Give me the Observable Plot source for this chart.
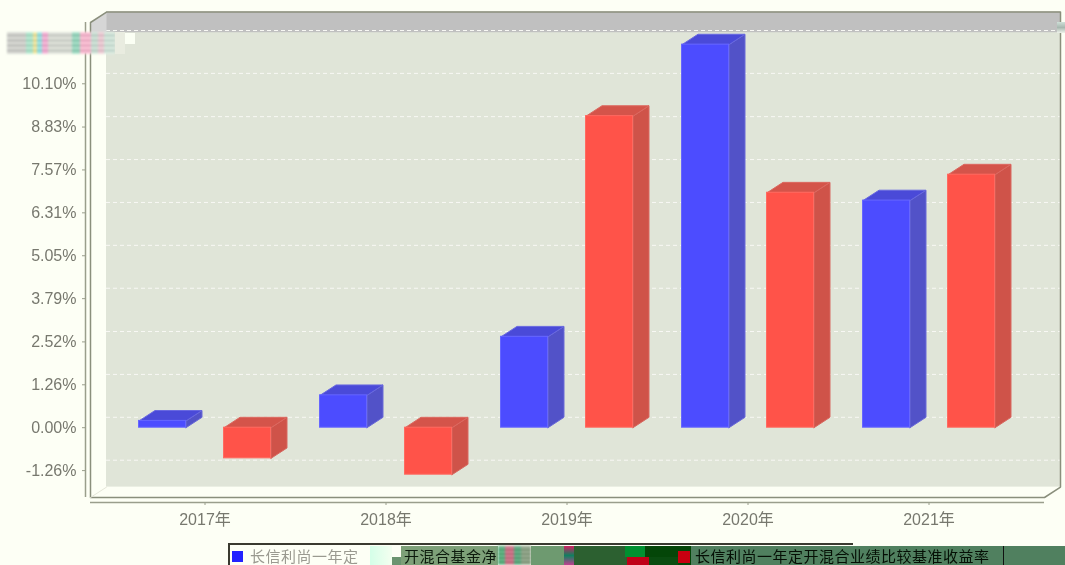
<!DOCTYPE html>
<html lang="zh">
<head>
<meta charset="utf-8">
<script src="https://cdn.jsdelivr.net/npm/d3@7"></script>
<script src="https://cdn.jsdelivr.net/npm/@observablehq/plot@0.6"></script>
<style>
html,body{margin:0;padding:0;background:#fff;overflow:hidden}
#wrap{position:relative;width:1065px;height:565px;background:#fdfff5;overflow:hidden;font-family:"Liberation Sans",Arial,sans-serif}
#chart svg{display:block;background:transparent;filter:blur(.45px)}
.abs{position:absolute}
#legend{position:absolute;left:0;top:543px;width:1065px;height:22px;overflow:hidden;filter:blur(.4px);font-family:"Noto Sans CJK SC",sans-serif;font-size:15px;letter-spacing:.5px;line-height:15px;white-space:nowrap}
#legend span{position:absolute}
</style>
</head>
<body>
<div id="wrap">
  <div id="chart"></div>
  <div class="abs" id="noise" style="left:7px;top:32px;width:108px;height:22px;filter:blur(.9px);
    background:repeating-linear-gradient(0deg,rgba(255,255,255,.28) 0 2px,rgba(120,120,140,.16) 2px 5px),linear-gradient(90deg,#cfd0c8 0 18%,#a8e8c8 18% 24%,#f4e890 24% 28%,#8ee4e0 28% 32%,#f8a8d0 32% 38%,#d8dcd0 38% 60%,#8ed8b8 60% 68%,#ffb4cc 68% 78%,#c8e0d0 78% 84%,#f0c8d0 84% 90%,#d0e8d8 90% 100%)"></div>
  <div class="abs" style="left:115px;top:32px;width:10px;height:22px;background:#e9ece0"></div>
  <div class="abs" style="left:125px;top:33px;width:10px;height:11px;background:#fbfff4"></div>
  <div class="abs" style="left:1057px;top:22px;width:8px;height:11px;background:linear-gradient(#cfe0d8,#a8b8b0 50%,#eef2ea)"></div>
  <div id="legend">
    <div class="abs" style="left:228px;top:0;width:625px;height:2px;background:#3a3a30"></div>
    <div class="abs" style="left:228px;top:0;width:2px;height:22px;background:#3a3a30"></div>
    <div class="abs" style="left:370px;top:3px;width:22px;height:19px;background:linear-gradient(90deg,#d4ffe8,#f4fff0)"></div>
    <div class="abs" style="left:392px;top:14px;width:10px;height:8px;background:#6b9470"></div>
    <div class="abs" style="left:401px;top:3px;width:97px;height:19px;background:#7da078"></div>
    <div class="abs" style="left:498px;top:3px;width:33px;height:19px;filter:blur(.8px);background:repeating-linear-gradient(0deg,rgba(255,255,255,.2) 0 2px,rgba(0,0,0,.12) 2px 4px),linear-gradient(90deg,#4fb078 0 20%,#d06880 20% 50%,#50a878 50% 70%,#88a080 70%)"></div>
    <div class="abs" style="left:531px;top:3px;width:33px;height:19px;background:#6e9a70"></div>
    <div class="abs" style="left:564px;top:3px;width:10px;height:19px;background:linear-gradient(#d02060,#108060 50%,#c04090)"></div>
    <div class="abs" style="left:574px;top:3px;width:67px;height:19px;background:#2c6030"></div>
    <div class="abs" style="left:625px;top:3px;width:20px;height:11px;background:#009030"></div>
    <div class="abs" style="left:627px;top:14px;width:22px;height:8px;background:#c00018"></div>
    <div class="abs" style="left:645px;top:3px;width:33px;height:11px;background:#044608"></div>
    <div class="abs" style="left:649px;top:14px;width:29px;height:8px;background:#0a4c10"></div>
    <div class="abs" style="left:678px;top:3px;width:13px;height:19px;background:#044608"></div>
    <div class="abs" style="left:691px;top:3px;width:374px;height:19px;background:#50805f"></div>
    <div class="abs" style="left:1003px;top:3px;width:1px;height:19px;background:#111"></div>
    <div class="abs" style="left:232px;top:8px;width:11px;height:11px;background:#2222ff"></div>
    <div class="abs" style="left:678px;top:8px;width:12px;height:12px;background:#c80010"></div>
    <span id="n1" style="left:250px;top:5px;color:#9a9a90"></span>
    <span id="n1b" style="left:404px;top:5px;color:#0c1a0c"></span>
    <span id="n2" style="left:695px;top:5px;color:#050f05"></span>
  </div>
</div>
<script>
// ---- data ----
const years = ["2017年", "2018年", "2019年", "2020年", "2021年"];
const fundValues = [0.2, 0.95, 2.67, 11.25, 6.67];
const benchmarkValues = [-0.9, -1.38, 9.15, 6.9, 7.43];
const yTicks = [-1.26, 0, 1.26, 2.52, 3.79, 5.05, 6.31, 7.57, 8.83, 10.10, 11.36];
const seriesNames = ["长信利尚一年定开混合基金净值增长率", "长信利尚一年定开混合业绩比较基准收益率"];

// ---- 3D geometry, in scale units ----
const depthX = 16 / 181, depthY = 0.305;
const xMin = -114.5 / 181, xMax = 839.5 / 181;
const yMin = -2.05, yMax = 11.9;
const barOffset = [[-66 / 181, -19 / 181], [19 / 181, 66 / 181]];

const bars = (vals, s) => vals.map((v, i) => ({x1: i + barOffset[s][0], x2: i + barOffset[s][1], y1: 0, y2: v, top: Math.max(v, 0), bot: Math.min(v, 0)}));
const blue = bars(fundValues, 0), red = bars(benchmarkValues, 1);
const poly = (pts, id) => pts.map(([x, y]) => ({x, y, id}));
const sides = rows => rows.flatMap((b, i) => poly([[b.x2, b.bot], [b.x2 + depthX, b.bot + depthY], [b.x2 + depthX, b.top + depthY], [b.x2, b.top], [b.x2, b.bot]], i));
const tops = rows => rows.flatMap((b, i) => poly([[b.x1, b.top], [b.x1 + depthX, b.top + depthY], [b.x2 + depthX, b.top + depthY], [b.x2, b.top], [b.x1, b.top]], i));
const face = (rows, fill, stroke) => Plot.line(rows, {x: "x", y: "y", z: "id", fill, stroke, strokeWidth: 1, curve: "linear"});

const wallTop = yMax + depthY, wallBottom = yMin + depthY, bandBottom = 11.6;
const wx1 = xMin + depthX, wx2 = xMax + depthX;
const axisXpos = xMin - 5 / 181, axisYpos = yMin - 5 / 34.05;
const edge = "#8a8f7c";

const plot = Plot.plot({
  width: 1065, height: 543,
  marginLeft: 90, marginRight: 21, marginTop: 22, marginBottom: 46,
  style: {fontFamily: '"Liberation Sans","Noto Sans CJK SC",sans-serif', fontSize: "16px", color: "#77786e", background: "transparent"},
  x: {domain: [xMin, xMax], range: [90, 1044], axis: null},
  y: {domain: [yMin, yMax], range: [497, 22], axis: null},
  marks: [
    // walls
    Plot.rect([0], {x1: wx1, x2: wx2, y1: wallBottom, y2: wallTop, fill: "#e0e5d8"}),
    Plot.rect([0], {x1: wx1, x2: wx2, y1: bandBottom, y2: wallTop, fill: "#c0c0c0"}),
    // grid on back wall
    Plot.ruleY(yTicks, {y: d => d + depthY, x1: wx1, x2: wx2, stroke: "#f8f8f4", strokeWidth: 1, strokeDasharray: "4,3"}),
    // wall edges
    Plot.line(poly([[xMin, yMax], [wx1, wallTop], [wx1, bandBottom], [xMin, bandBottom - depthY]], 0), {x: "x", y: "y", fill: "#d6d6d6", stroke: "none"}),
    Plot.line(poly([[xMin, yMin], [xMin, yMax], [wx1, wallTop], [wx2, wallTop], [wx2, wallBottom], [xMax, yMin], [xMin, yMin]], 0), {x: "x", y: "y", stroke: edge, strokeWidth: 1.5}),
    Plot.line(poly([[xMin, yMin], [wx1, wallBottom]], 0), {x: "x", y: "y", stroke: "#e4e6d8", strokeWidth: 1}),
    // bars
    face(sides(blue), "#5252c8", "#6a6ad8"),
    face(tops(blue), "#4a4ad8", "#6868e0"),
    Plot.rect(blue, {x1: "x1", x2: "x2", y1: "y1", y2: "y2", fill: "#4c4cff", stroke: "#6666ff", strokeWidth: 1}),
    face(sides(red), "#cf5349", "#d86860"),
    face(tops(red), "#d4544a", "#dc6860"),
    Plot.rect(red, {x1: "x1", x2: "x2", y1: "y1", y2: "y2", fill: "#ff5349", stroke: "#ff6a60", strokeWidth: 1}),
    // axes
    Plot.ruleX([axisXpos], {y1: yMin, y2: yMax, stroke: "#9a9e8c", strokeWidth: 1.5}),
    Plot.ruleY([axisYpos], {x1: xMin, x2: xMax, stroke: "#9a9e8c", strokeWidth: 1.5}),
    Plot.ruleY(yTicks, {y: d => d, x1: axisXpos - 3 / 181, x2: axisXpos, stroke: "#9a9e8c"}),
    Plot.ruleX(years.map((_, i) => i), {x: d => d, y1: axisYpos, y2: axisYpos - 3 / 34.05, stroke: "#9a9e8c"}),
    Plot.text(yTicks, {y: d => d, x: axisXpos - 9 / 181, text: d => d.toFixed(2) + "%", textAnchor: "end", fill: "#77786e", fontSize: 16}),
    Plot.text(years, {x: (_, i) => i, y: axisYpos - 17.5 / 34.05, text: d => d, fill: "#77786e", fontSize: 16})
  ]
});
document.getElementById("chart").appendChild(plot);
document.getElementById("n1").textContent = seriesNames[0].slice(0, 7);
document.getElementById("n1b").textContent = seriesNames[0].slice(7, 13);
document.getElementById("n2").textContent = seriesNames[1];
</script>
</body>
</html>
